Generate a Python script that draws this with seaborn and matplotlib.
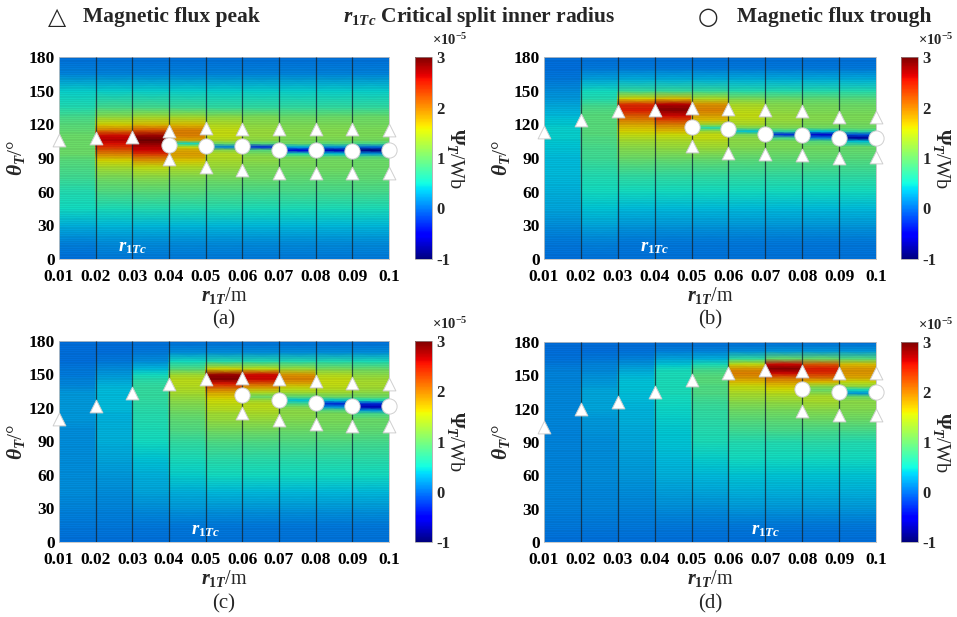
import numpy as np
import matplotlib
matplotlib.use("Agg")
import matplotlib.pyplot as plt
import seaborn as sns

sns.set_theme(style="white")
plt.rcParams["font.family"] = ["Liberation Serif", "DejaVu Serif"]
plt.rcParams["font.weight"] = "bold"
plt.rcParams["mathtext.fontset"] = "custom"
plt.rcParams["mathtext.rm"] = "Liberation Serif:bold"
plt.rcParams["mathtext.it"] = "Liberation Serif:italic:bold"
plt.rcParams["mathtext.bf"] = "Liberation Serif:bold"
plt.rcParams["axes.unicode_minus"] = False

# ---------------- data ----------------
r_values = [0.01, 0.02, 0.03, 0.04, 0.05, 0.06, 0.07, 0.08, 0.09, 0.10]
x_ticklabels = ["0.01", "0.02", "0.03", "0.04", "0.05", "0.06", "0.07", "0.08", "0.09", "0.1"]
theta_ticks = [0, 30, 60, 90, 120, 150, 180]
cbar_ticks = [-1, 0, 1, 2, 3]          # x1e-5 Wb
cbar_ticklabels = ["-1", "0", "1", "2", "3"]
cbar_scale = 1e-5
panel_labels = ["(a)", "(b)", "(c)", "(d)"]

# (a) flux profile per r-column (x1e-5 Wb) at theta knots
a_theta = [0, 15, 30, 45, 60, 72, 82, 88, 91, 94, 97, 100, 103, 106, 110, 115, 120, 127, 135, 150, 165, 180]
a_field = [
    [0.0, 0.1, 0.3, 0.5, 0.6, 0.75, 0.85, 0.9, 0.95, 1.0, 1.0, 1.0, 1.0, 1.0, 1.0, 0.95, 0.9, 0.8, 0.6, 0.45, 0.1, 0.0],
    [0.05, 0.15, 0.35, 0.55, 0.85, 1.05, 1.35, 1.6, 1.8, 2.0, 2.2, 2.4, 2.55, 2.7, 2.6, 2.0, 1.6, 1.2, 0.8, 0.45, 0.1, 0.0],
    [0.05, 0.15, 0.35, 0.6, 0.9, 1.15, 1.5, 1.9, 2.1, 2.4, 2.6, 2.7, 2.85, 3.0, 2.8, 2.2, 1.7, 1.3, 0.8, 0.45, 0.1, 0.0],
    [0.05, 0.15, 0.35, 0.6, 0.9, 1.1, 1.4, 1.65, 1.8, 1.85, 1.8, 1.5, 0.5, 1.8, 2.0, 2.0, 1.7, 1.3, 0.75, 0.45, 0.1, 0.0],
    [0.05, 0.15, 0.35, 0.6, 0.85, 1.05, 1.25, 1.35, 1.4, 1.4, 1.2, 0.1, 1.0, 1.4, 1.5, 1.5, 1.4, 1.2, 0.7, 0.45, 0.1, 0.0],
    [0.05, 0.15, 0.35, 0.55, 0.8, 1.0, 1.1, 1.2, 1.2, 1.1, 0.9, -0.3, 0.9, 1.2, 1.25, 1.25, 1.2, 1.1, 0.7, 0.45, 0.1, 0.0],
    [0.05, 0.15, 0.35, 0.55, 0.8, 0.95, 1.05, 1.1, 1.05, 0.6, -0.5, 0.3, 1.0, 1.1, 1.15, 1.15, 1.1, 1.0, 0.7, 0.45, 0.1, 0.0],
    [0.05, 0.15, 0.35, 0.55, 0.8, 0.95, 1.05, 1.05, 1.0, 0.4, -0.7, 0.2, 0.9, 1.1, 1.15, 1.15, 1.1, 1.0, 0.7, 0.45, 0.1, 0.0],
    [0.05, 0.15, 0.35, 0.55, 0.8, 0.95, 1.0, 1.0, 0.9, 0.2, -0.9, 0.0, 0.8, 1.05, 1.1, 1.1, 1.05, 1.0, 0.7, 0.45, 0.1, 0.0],
]
a_peak_upper = [106, 107.5, 108.5, 114, 116.5, 115.6, 115.6, 115.6, 115.6, 115]
a_peak_lower_r = [0.04, 0.05, 0.06, 0.07, 0.08, 0.09, 0.10]
a_peak_lower = [88.8, 82.3, 79.3, 76.4, 76.7, 76.7, 76.4]
a_trough_r = [0.04, 0.05, 0.06, 0.07, 0.08, 0.09, 0.10]
a_trough = [102, 100.7, 100.7, 97.2, 97.2, 96.6, 97.2]
a_crit = 0.03

# (b)
b_theta = [0, 15, 30, 45, 60, 75, 90, 100, 105, 108, 111, 114, 117, 120, 124, 128, 133, 138, 143, 150, 160, 170, 180]
b_field = [
    [0.0, 0.05, 0.15, 0.25, 0.3, 0.35, 0.35, 0.4, 0.42, 0.45, 0.45, 0.45, 0.45, 0.42, 0.4, 0.35, 0.3, 0.25, 0.2, 0.15, 0.05, 0.0, 0.0],
    [0.02, 0.1, 0.25, 0.4, 0.5, 0.6, 0.75, 0.8, 0.85, 0.85, 0.9, 0.9, 0.9, 0.9, 0.9, 0.9, 0.85, 0.75, 0.6, 0.5, 0.25, 0.05, 0.0],
    [0.02, 0.05, 0.2, 0.35, 0.5, 0.7, 1.0, 1.2, 1.3, 1.4, 1.5, 1.6, 1.7, 1.8, 2.0, 2.2, 2.5, 2.4, 1.6, 0.7, 0.3, 0.05, 0.0],
    [0.02, 0.05, 0.2, 0.35, 0.5, 0.7, 1.0, 1.25, 1.35, 1.45, 1.55, 1.7, 1.85, 2.0, 2.3, 2.6, 2.9, 2.7, 1.7, 0.7, 0.3, 0.05, 0.0],
    [0.02, 0.05, 0.2, 0.35, 0.5, 0.7, 1.0, 1.3, 1.4, 1.5, 1.5, 1.3, 0.6, 1.3, 1.7, 1.85, 2.0, 1.9, 1.4, 0.7, 0.3, 0.05, 0.0],
    [0.02, 0.05, 0.2, 0.35, 0.5, 0.7, 0.95, 1.15, 1.2, 1.2, 1.1, 0.4, 1.1, 1.35, 1.45, 1.5, 1.45, 1.35, 1.1, 0.6, 0.3, 0.05, 0.0],
    [0.02, 0.05, 0.2, 0.35, 0.5, 0.7, 0.95, 1.1, 1.1, 0.8, -0.3, 0.7, 1.1, 1.2, 1.25, 1.25, 1.2, 1.15, 1.0, 0.6, 0.3, 0.05, 0.0],
    [0.02, 0.05, 0.2, 0.35, 0.5, 0.7, 0.95, 1.05, 0.9, 0.1, -0.6, 0.4, 1.0, 1.1, 1.15, 1.15, 1.1, 1.05, 0.95, 0.6, 0.3, 0.05, 0.0],
    [0.02, 0.05, 0.2, 0.35, 0.5, 0.7, 0.9, 1.0, 0.4, -0.8, -0.1, 0.7, 1.0, 1.05, 1.1, 1.1, 1.05, 1.0, 0.9, 0.6, 0.3, 0.05, 0.0],
]
b_peak_upper = [113.5, 123.9, 131.9, 132.8, 134.3, 133.4, 132.8, 132, 126.8, 126.2]
b_peak_lower_r = [0.05, 0.06, 0.07, 0.08, 0.09, 0.10]
b_peak_lower = [100.7, 94.2, 94, 92.7, 89.7, 90.6]
b_trough_r = [0.05, 0.06, 0.07, 0.08, 0.09, 0.10]
b_trough = [117.9, 115.6, 111.1, 110.5, 108.1, 108]
b_crit = 0.04

# (c)
c_theta = [0, 15, 30, 45, 60, 75, 90, 100, 110, 115, 118, 121, 124, 127, 130, 134, 138, 142, 146, 150, 155, 162, 170, 180]
c_field = [
    [0.0, 0.05, 0.1, 0.15, 0.15, 0.15, 0.15, 0.15, 0.2, 0.2, 0.2, 0.2, 0.2, 0.2, 0.2, 0.2, 0.15, 0.1, 0.1, 0.05, 0.05, 0.0, 0.0, 0.0],
    [0.0, 0.05, 0.1, 0.15, 0.2, 0.25, 0.3, 0.3, 0.3, 0.32, 0.35, 0.35, 0.35, 0.35, 0.35, 0.35, 0.35, 0.3, 0.25, 0.2, 0.15, 0.05, 0.0, 0.0],
    [0.0, 0.05, 0.15, 0.25, 0.3, 0.4, 0.5, 0.55, 0.6, 0.62, 0.64, 0.65, 0.66, 0.68, 0.7, 0.7, 0.7, 0.68, 0.62, 0.5, 0.35, 0.15, 0.05, 0.0],
    [0.02, 0.05, 0.2, 0.3, 0.45, 0.55, 0.7, 0.85, 0.95, 1.0, 1.05, 1.1, 1.15, 1.2, 1.25, 1.35, 1.4, 1.45, 1.45, 1.3, 0.9, 0.5, 0.15, 0.0],
    [0.02, 0.05, 0.2, 0.35, 0.5, 0.65, 0.85, 1.05, 1.25, 1.3, 1.4, 1.45, 1.5, 1.55, 1.65, 1.8, 2.1, 2.5, 2.9, 2.8, 1.6, 0.6, 0.15, 0.0],
    [0.02, 0.05, 0.2, 0.35, 0.5, 0.65, 0.85, 1.05, 1.25, 1.35, 1.4, 1.45, 1.45, 1.3, 1.0, 1.4, 1.8, 2.2, 2.6, 2.6, 1.5, 0.6, 0.15, 0.0],
    [0.02, 0.05, 0.2, 0.35, 0.5, 0.65, 0.85, 1.0, 1.15, 1.2, 1.2, 1.1, 0.8, 0.4, 0.9, 1.3, 1.5, 1.8, 2.0, 1.9, 1.3, 0.6, 0.15, 0.0],
    [0.02, 0.05, 0.2, 0.35, 0.5, 0.65, 0.85, 1.0, 1.1, 1.1, 0.9, 0.2, -0.3, 0.4, 1.0, 1.3, 1.45, 1.5, 1.5, 1.4, 1.1, 0.6, 0.15, 0.0],
    [0.02, 0.05, 0.2, 0.35, 0.5, 0.65, 0.8, 0.95, 1.0, 0.8, 0.2, -0.7, -0.3, 0.5, 1.0, 1.2, 1.3, 1.35, 1.3, 1.2, 1.0, 0.55, 0.15, 0.0],
]
c_peak_upper = [110.5, 121.5, 133.4, 141.2, 146.3, 147.2, 146.3, 144.1, 142.4, 141.8]
c_peak_lower_r = [0.06, 0.07, 0.08, 0.09, 0.10]
c_peak_lower = [115.5, 109.6, 106, 103.6, 103.6]
c_trough_r = [0.06, 0.07, 0.08, 0.09, 0.10]
c_trough = [131.3, 126.9, 124.5, 121.5, 121.5]
c_crit = 0.05

# (d)
d_theta = [0, 15, 30, 45, 60, 75, 90, 100, 110, 120, 127, 131, 134, 137, 140, 144, 148, 152, 156, 160, 165, 172, 180]
d_field = [
    [0.0, 0.05, 0.08, 0.1, 0.1, 0.1, 0.1, 0.1, 0.12, 0.12, 0.12, 0.12, 0.12, 0.12, 0.12, 0.1, 0.1, 0.1, 0.08, 0.05, 0.03, 0.0, 0.0],
    [0.0, 0.05, 0.1, 0.12, 0.15, 0.15, 0.15, 0.18, 0.2, 0.25, 0.25, 0.25, 0.25, 0.25, 0.22, 0.2, 0.18, 0.15, 0.12, 0.1, 0.05, 0.0, 0.0],
    [0.0, 0.05, 0.1, 0.15, 0.2, 0.22, 0.25, 0.28, 0.3, 0.32, 0.35, 0.36, 0.37, 0.38, 0.38, 0.38, 0.36, 0.32, 0.25, 0.18, 0.1, 0.03, 0.0],
    [0.0, 0.05, 0.15, 0.22, 0.3, 0.35, 0.4, 0.42, 0.45, 0.48, 0.5, 0.52, 0.55, 0.55, 0.55, 0.55, 0.55, 0.55, 0.5, 0.4, 0.25, 0.08, 0.0],
    [0.0, 0.05, 0.15, 0.25, 0.35, 0.45, 0.55, 0.6, 0.65, 0.7, 0.75, 0.8, 0.85, 0.85, 0.85, 0.9, 0.9, 0.85, 0.75, 0.55, 0.3, 0.1, 0.0],
    [0.0, 0.05, 0.2, 0.3, 0.4, 0.5, 0.6, 0.75, 0.9, 1.05, 1.2, 1.3, 1.35, 1.45, 1.5, 1.7, 1.9, 2.0, 1.9, 1.5, 0.7, 0.15, 0.0],
    [0.0, 0.05, 0.2, 0.3, 0.4, 0.5, 0.6, 0.8, 0.95, 1.1, 1.25, 1.35, 1.45, 1.55, 1.65, 1.85, 2.1, 2.6, 2.9, 2.6, 1.0, 0.2, 0.0],
    [0.0, 0.05, 0.2, 0.3, 0.4, 0.5, 0.65, 0.8, 1.0, 1.2, 1.35, 1.35, 1.2, 1.0, 1.2, 1.7, 2.1, 2.4, 2.5, 2.2, 1.0, 0.2, 0.0],
    [0.0, 0.05, 0.2, 0.3, 0.4, 0.5, 0.6, 0.8, 1.0, 1.15, 1.2, 1.0, 0.2, 0.5, 1.2, 1.5, 1.8, 1.9, 1.9, 1.7, 0.9, 0.2, 0.0],
]
d_peak_upper = [103.5, 120, 126, 135, 145.5, 152, 155, 154, 152, 152]
d_peak_lower_r = [0.08, 0.09, 0.10]
d_peak_lower = [118, 114, 114]
d_trough_r = [0.08, 0.09, 0.10]
d_trough = [138, 135, 135]
d_crit = 0.07

panels = [
    (a_theta, a_field, a_peak_upper, a_peak_lower_r, a_peak_lower, a_trough_r, a_trough, a_crit),
    (b_theta, b_field, b_peak_upper, b_peak_lower_r, b_peak_lower, b_trough_r, b_trough, b_crit),
    (c_theta, c_field, c_peak_upper, c_peak_lower_r, c_peak_lower, c_trough_r, c_trough, c_crit),
    (d_theta, d_field, d_peak_upper, d_peak_lower_r, d_peak_lower, d_trough_r, d_trough, d_crit),
]

# ---------------- layout (pixels) ----------------
W, H = 957, 617
fig = plt.figure(figsize=(W / 100, H / 100), dpi=100)


def rect(l, t, r, b):
    return [l / W, 1 - b / H, (r - l) / W, (b - t) / H]


ax_px = [(59, 57, 389, 259), (544, 57, 876, 259), (59, 341, 389, 542), (544, 342, 876, 542)]
cb_px = [(415, 57, 432, 259), (901, 57, 918, 259), (415, 341, 432, 542), (901, 342, 918, 542)]
cap_y = [320, 320, 604, 604]

for i, (theta, field, pk_up, pk_lo_r, pk_lo, tr_r, tr, crit) in enumerate(panels):
    ax = fig.add_axes(rect(*ax_px[i]))
    cax = fig.add_axes(rect(*cb_px[i]))

    th = np.asarray(theta, float)
    F = np.asarray(field, float).T * cbar_scale     # (n_theta, 9)
    xe = np.asarray(r_values, float)
    Xn = np.repeat(xe, 2)[1:-1]                    # flat columns between r values
    Cn = np.repeat(F, 2, axis=1)
    XX, YY = np.meshgrid(Xn, th)
    mesh = ax.pcolormesh(XX, YY, Cn, shading="gouraud", cmap="jet",
                         vmin=cbar_ticks[0] * cbar_scale, vmax=cbar_ticks[-1] * cbar_scale, zorder=1)
    # darkening + horizontal edge texture, column edges
    ax.axhspan(0, 180, color="black", alpha=0.14, lw=0, zorder=2)
    ax.hlines(np.arange(0, 180, 1.6), xe[0], xe[-1], colors="black", alpha=0.07, lw=0.5, zorder=2)
    ax.vlines(xe[1:-1], 0, 180, colors="#142535", alpha=0.8, lw=0.9, zorder=3)

    sns.scatterplot(x=r_values, y=pk_up, marker="^", s=85, color="white", edgecolor="#cfcfcf",
                    linewidth=0.7, ax=ax, zorder=6, clip_on=False, legend=False)
    sns.scatterplot(x=pk_lo_r, y=pk_lo, marker="^", s=85, color="white", edgecolor="#cfcfcf",
                    linewidth=0.7, ax=ax, zorder=6, clip_on=False, legend=False)
    sns.scatterplot(x=tr_r, y=tr, marker="o", s=120, color="white", edgecolor="#cfcfcf",
                    linewidth=0.7, ax=ax, zorder=6, clip_on=False, legend=False)

    ax.text(crit, 10, r"$r_{1Tc}$", color="white", fontsize=13.5, ha="center", va="center", zorder=7)

    ax.set_xlim(xe[0], xe[-1])
    ax.set_ylim(0, 180)
    ax.set_xticks(r_values)
    ax.set_xticklabels(x_ticklabels)
    ax.set_yticks(theta_ticks)
    ax.tick_params(axis="x", length=0, labelsize=12.5, pad=7, colors="black")
    ax.tick_params(axis="y", length=0, labelsize=12.5, pad=3, colors="black")
    for lab in ax.get_xticklabels() + ax.get_yticklabels():
        lab.set_fontweight("bold")
    for sp in ax.spines.values():
        sp.set_color("#c0c0c0")
        sp.set_linewidth(0.6)
    ax.set_xlabel(r"$r_{1T}$/m", fontsize=14.5, labelpad=0)
    ax.set_ylabel(r"$\theta_T$/°", fontsize=15.5, labelpad=1)

    cb = fig.colorbar(mesh, cax=cax)
    cb.set_ticks([v * cbar_scale for v in cbar_ticks])
    cb.set_ticklabels(cbar_ticklabels)
    cb.outline.set_linewidth(0.5)
    cb.outline.set_edgecolor("#999999")
    cax.tick_params(length=0, labelsize=12, pad=3)
    for lab in cax.get_yticklabels():
        lab.set_fontweight("bold")
    cax.text(1.0, 1.045, r"$\times\mathregular{10}^{-5}$", transform=cax.transAxes,
             ha="left", va="bottom", fontsize=10.5)
    cax.set_ylabel(r"$\Psi_T$/Wb", fontsize=14.5, rotation=-90, ha="center", va="center")
    cax.yaxis.set_label_coords(2.4, 0.5)

    l, t, r, b = ax_px[i]
    fig.text((l + r) / 2 / W, 1 - cap_y[i] / H, panel_labels[i], ha="center", va="center",
             fontsize=15, fontweight="normal")

# ---------------- top legend ----------------
ty = 1 - 17 / H
fig.text(57 / W, ty, "△", family="DejaVu Sans", fontsize=17, fontweight="normal",
         ha="center", va="center")
fig.text(83 / W, ty, "Magnetic flux peak", fontsize=15.5, ha="left", va="center")
fig.text(343 / W, ty, r"$r_{1Tc}$ Critical split inner radius", fontsize=15.5, ha="left", va="center")
fig.text(708 / W, ty, "○", family="DejaVu Sans", fontsize=17, fontweight="normal",
         ha="center", va="center")
fig.text(737 / W, ty, "Magnetic flux trough", fontsize=15.5, ha="left", va="center")

fig.savefig("out.png", dpi=100)
